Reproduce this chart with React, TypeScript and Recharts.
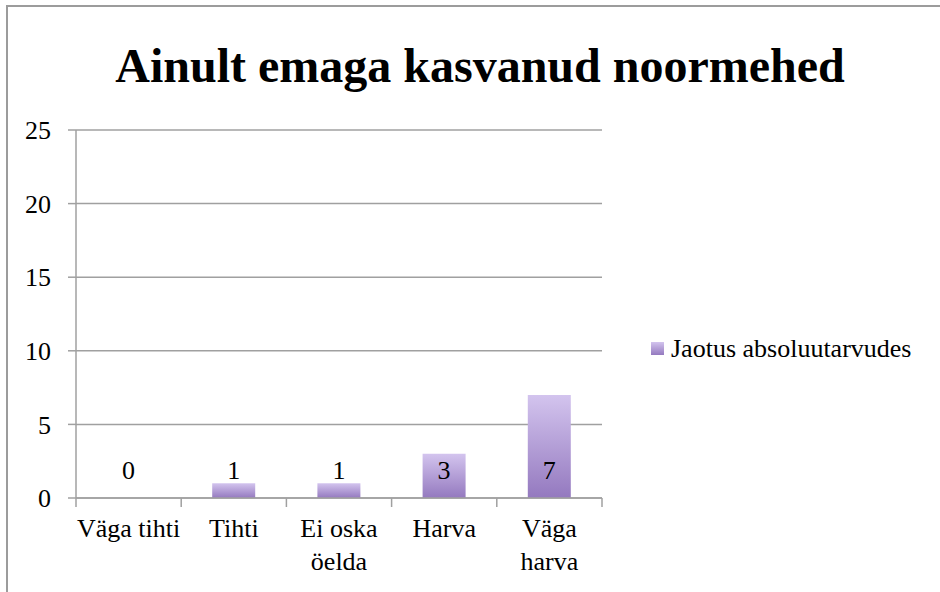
import React from 'react';
import { BarChart, Bar, XAxis, YAxis, CartesianGrid, LabelList, Legend } from 'recharts';

const title = 'Ainult emaga kasvanud noormehed';
const seriesName = 'Jaotus absoluutarvudes';
const categories = ['Väga tihti', 'Tihti', 'Ei oska öelda', 'Harva', 'Väga harva'];
const tickLines = [['Väga tihti'], ['Tihti'], ['Ei oska', 'öelda'], ['Harva'], ['Väga', 'harva']];
const values = [0, 1, 1, 3, 7];
const yTicks = [0, 5, 10, 15, 20, 25];

const data = categories.map((c, i) => ({ category: c, value: values[i] }));

const FONT = "'Liberation Serif', 'Times New Roman', Times, serif";
const AXIS = '#a0a0a0';
const TOP_C = '#d3c4ee';
const BOT_C = '#9479bf';

const XTick = (props: any) => {
  const { x, y, index, width, visibleTicksCount } = props;
  const lines = tickLines[index] || [String(props.payload.value)];
  const band = width && visibleTicksCount ? width / visibleTicksCount : 0;
  const isLast = index === visibleTicksCount - 1;
  return (
    <g>
      {band > 0 && <line x1={x - band / 2} x2={x - band / 2} y1={y} y2={y + 9} stroke={AXIS} strokeWidth={1.5} />}
      {band > 0 && isLast && <line x1={x + band / 2} x2={x + band / 2} y1={y} y2={y + 9} stroke={AXIS} strokeWidth={1.5} />}
      {lines.map((l: string, i: number) => (
        <text key={i} x={x} y={y + 39 + i * 33} textAnchor="middle" fontSize={26} fontFamily={FONT} fill="#000">
          {l}
        </text>
      ))}
    </g>
  );
};

const ValueLabel = (props: any) => {
  const { x, y, width, height, value } = props;
  return (
    <text x={x + width / 2} y={y + height - 19} textAnchor="middle" fontSize={26} fontFamily={FONT} fill="#000">
      {value}
    </text>
  );
};

const LegendContent = () => (
  <svg width={280} height={30} style={{ display: 'block' }}>
    <defs>
      <linearGradient id="legGrad" x1="0" y1="0" x2="0" y2="1">
        <stop offset="0%" stopColor={TOP_C} />
        <stop offset="100%" stopColor={BOT_C} />
      </linearGradient>
    </defs>
    <rect x={0} y={9} width={13} height={13} fill="url(#legGrad)" />
    <text x={20} y={24} fontSize={26} fontFamily={FONT} fill="#000">
      {seriesName}
    </text>
  </svg>
);

export default function App() {
  return (
    <div style={{ position: 'absolute', left: 0, top: 0, width: 940, height: 592, overflow: 'hidden', background: '#fff', fontFamily: FONT }}>
      <div style={{ position: 'absolute', left: 6, top: 5, width: 1000, height: 1000, border: '2px solid #9c9c9c' }} />
      <svg style={{ position: 'absolute', left: 0, top: 0 }} width={940} height={130}>
        <text x={480} y={82} textAnchor="middle" fontSize={48} fontWeight="bold" fontFamily={FONT} fill="#000">
          {title}
        </text>
      </svg>
      <div style={{ position: 'absolute', left: 0, top: 0 }}>
        <BarChart width={940} height={592} data={data} margin={{ top: 130, right: 338, bottom: 93, left: 0 }}>
          <defs>
            <linearGradient id="barGrad" x1="0" y1="0" x2="0" y2="1">
              <stop offset="0%" stopColor={TOP_C} />
              <stop offset="100%" stopColor={BOT_C} />
            </linearGradient>
          </defs>
          <CartesianGrid vertical={false} stroke={AXIS} strokeWidth={1.5} />
          <XAxis
            dataKey="category"
            axisLine={{ stroke: AXIS, strokeWidth: 1.5 }}
            tickLine={false}
            tickSize={0}
            tickMargin={0}
            tick={<XTick />}
            interval={0}
            height={1}
          />
          <YAxis
            width={76}
            domain={[0, 25]}
            ticks={yTicks}
            axisLine={{ stroke: AXIS, strokeWidth: 1.5 }}
            tickLine={{ stroke: AXIS, strokeWidth: 1.5 }}
            tickSize={8}
            tickMargin={17}
            tick={{ fontSize: 26, fontFamily: FONT, fill: '#000' }}
          />
          <Legend
            layout="horizontal"
            verticalAlign="middle"
            align="center"
            content={<LegendContent />}
            wrapperStyle={{ position: 'absolute', left: 651, top: 333, width: 'auto' }}
          />
          <Bar dataKey="value" name={seriesName} fill="url(#barGrad)" barSize={43} minPointSize={0.01} isAnimationActive={false}>
            <LabelList dataKey="value" content={<ValueLabel />} />
          </Bar>
        </BarChart>
      </div>
    </div>
  );
}
